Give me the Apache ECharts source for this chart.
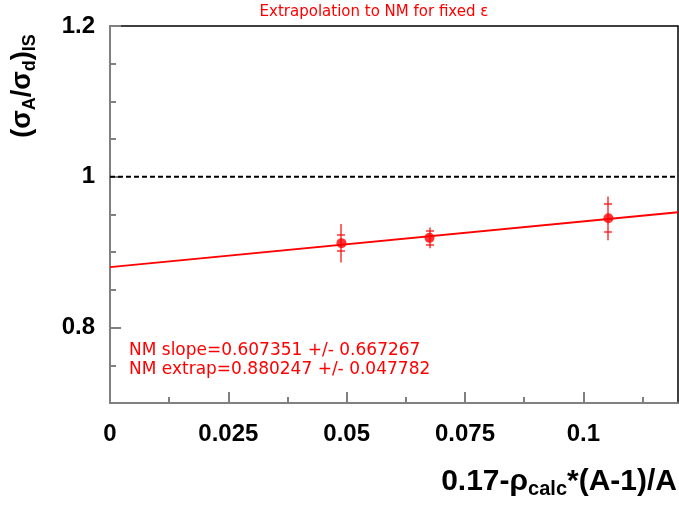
<!DOCTYPE html>
<html>
<head>
<meta charset="utf-8">
<script src="https://cdn.jsdelivr.net/npm/echarts@6/dist/echarts.min.js"></script>
<style>
html, body { margin: 0; padding: 0; background: #fff; }
#chart { width: 679px; height: 506px; }
</style>
</head>
<body>
<div id="chart"></div>
<script>
// measured points (x, y, stat error, total error)
const xValues = [0.0489, 0.0675, 0.1053];
const yValues = [0.912, 0.919, 0.945];
const statErr = [0.011, 0.009, 0.0186];
const totErr = [0.0255, 0.0137, 0.029];
// straight-line fit, end points
const fitX = [0, 0.12];
const fitY = [0.8802, 0.9531];
// reference line at 1
const refX = [0, 0.12];
const refY = [1, 1];
// ticks
const xLabels = [0, 0.025, 0.05, 0.075, 0.1];
const xMinor = [0.0125, 0.0375, 0.0625, 0.0875, 0.1125];
const yLabels = [0.8, 1, 1.2];
const yMinor = [0.75, 0.85, 0.9, 0.95, 1.05, 1.1, 1.15];
const fitText = ['NM slope=0.607351 +/- 0.667267', 'NM extrap=0.880247 +/- 0.047782'];
const titleText = 'Extrapolation to NM for fixed \u03b5';

const font = '"Liberation Sans", Arial, Helvetica, sans-serif';
const thinFont = '"DejaVu Sans", Verdana, sans-serif';
const red = '#ff0000';
const axisGray = '#808080';

const chart = echarts.init(document.getElementById('chart'));

// error bar pieces as thin filled rectangles
const bar = (x, y, w, h) => ({
  type: 'rect',
  shape: { x, y, width: w, height: h },
  style: { fill: '#ff0000', stroke: null }
});

const renderErr = (params, api) => {
  const x = api.value(0), y = api.value(1), s = api.value(2), t = api.value(3);
  const top = api.coord([x, y + t]);
  const bot = api.coord([x, y - t]);
  const sTop = api.coord([x, y + s]);
  const sBot = api.coord([x, y - s]);
  const px = Math.round(top[0]);
  const hw = 4;
  return {
    type: 'group',
    children: [
      bar(px - 0.6, top[1], 1.2, bot[1] - top[1]),
      bar(px - hw, Math.round(sTop[1]) - 0.6, 2 * hw, 1.2),
      bar(px - hw, Math.round(sBot[1]) - 0.6, 2 * hw, 1.2)
    ]
  };
};

const tickLabel = { fontSize: 24, fontWeight: 'bold', color: '#000', fontFamily: font };

chart.setOption({
  animation: false,
  backgroundColor: '#fff',
  grid: {
    left: 110, right: 1, top: 26, bottom: 103,
    show: true, borderColor: '#000', borderWidth: 1.5,
    outerBoundsMode: 'none'
  },
  xAxis: [{
    type: 'value', min: 0, max: 0.12, position: 'bottom',
    axisLine: { show: true, onZero: false, lineStyle: { color: axisGray, width: 2 } },
    axisTick: { show: true, inside: true, length: 11, customValues: xLabels, lineStyle: { color: axisGray, width: 2 } },
    axisLabel: Object.assign({ customValues: xLabels, margin: 19 }, tickLabel),
    splitLine: { show: false }
  }, {
    type: 'value', min: 0, max: 0.12, position: 'bottom',
    axisLine: { show: false, onZero: false },
    axisTick: { show: true, inside: true, length: 6, customValues: xMinor, lineStyle: { color: axisGray, width: 2 } },
    axisLabel: { show: false },
    splitLine: { show: false }
  }],
  yAxis: [{
    type: 'value', min: 0.7, max: 1.2, position: 'left',
    axisLine: { show: true, onZero: false, lineStyle: { color: axisGray, width: 2 } },
    axisTick: { show: true, inside: true, length: 11, customValues: yLabels, lineStyle: { color: axisGray, width: 2 } },
    axisLabel: Object.assign({ customValues: yLabels, margin: 15, showMaxLabel: true }, tickLabel),
    splitLine: { show: false }
  }, {
    type: 'value', min: 0.7, max: 1.2, position: 'left',
    axisLine: { show: false, onZero: false },
    axisTick: { show: true, inside: true, length: 6, customValues: yMinor, lineStyle: { color: axisGray, width: 2 } },
    axisLabel: { show: false },
    splitLine: { show: false }
  }],
  series: [{
    type: 'line',
    data: refX.map((x, i) => [x, refY[i]]),
    symbol: 'none',
    lineStyle: { color: '#000', width: 2, type: [5, 3] },
    z: 1
  }, {
    type: 'line',
    data: fitX.map((x, i) => [x, fitY[i]]),
    symbol: 'none',
    lineStyle: { color: red, width: 2 },
    z: 2
  }, {
    type: 'custom',
    renderItem: renderErr,
    itemStyle: { color: red },
    data: xValues.map((x, i) => [x, yValues[i], statErr[i], totErr[i]]),
    z: 3
  }, {
    type: 'scatter',
    data: xValues.map((x, i) => [x, yValues[i]]),
    symbol: 'circle',
    symbolSize: 10,
    itemStyle: { color: red },
    z: 4
  }],
  graphic: [{
    type: 'text', x: 374, y: 12,
    style: { text: titleText, fill: red, font: '15px ' + thinFont, align: 'center', verticalAlign: 'middle' }
  }, {
    type: 'text', x: 129, y: 360,
    style: { text: fitText.join('\n'), fill: red, font: '17px ' + thinFont, lineHeight: 18.6, align: 'left', verticalAlign: 'middle' }
  }, {
    type: 'text', x: 23, y: 86, rotation: Math.PI / 2,
    style: {
      text: '{m|(\u03c3}{s|A}{m|/\u03c3}{s|d}{m|)}{s|IS}',
      align: 'center', verticalAlign: 'middle',
      rich: {
        m: { fontSize: 27, fontWeight: 'bold', fontFamily: font, fill: '#000', lineHeight: 30 },
        s: { fontSize: 18, fontWeight: 'bold', fontFamily: font, fill: '#000', lineHeight: 18, padding: [14, 0, 0, 0] }
      }
    }
  }, {
    type: 'text', x: 677, y: 482,
    style: {
      text: '{m|0.17-\u03c1}{s|calc}{m|*(A-1)/A}',
      align: 'right', verticalAlign: 'middle',
      rich: {
        m: { fontSize: 30, fontWeight: 'bold', fontFamily: font, fill: '#000', lineHeight: 32 },
        s: { fontSize: 20, fontWeight: 'bold', fontFamily: font, fill: '#000', lineHeight: 20, padding: [15, 0, 0, 0] }
      }
    }
  }]
});
</script>
</body>
</html>
